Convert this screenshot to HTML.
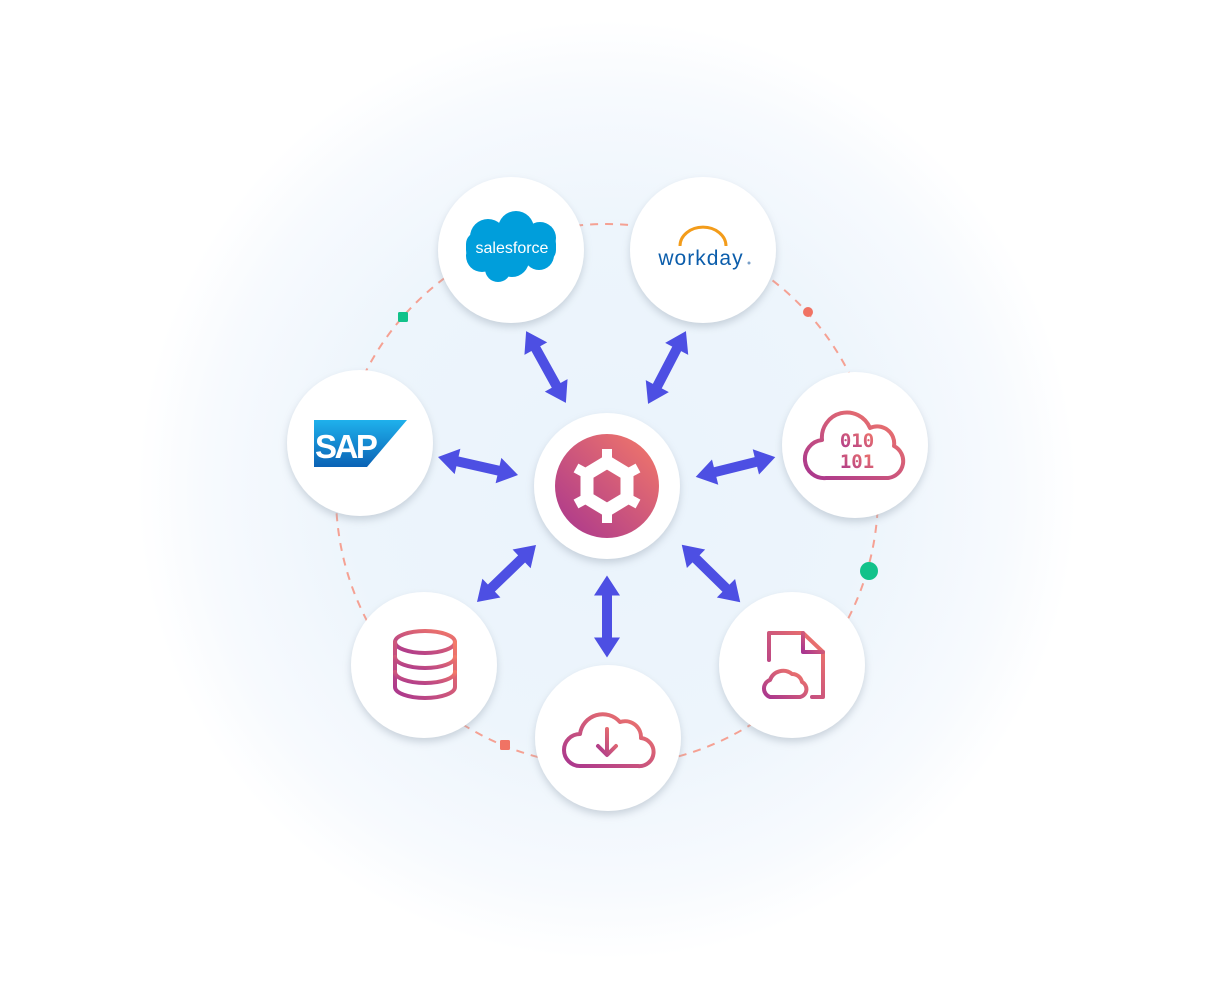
<!DOCTYPE html>
<html><head><meta charset="utf-8"><style>
html,body{margin:0;padding:0;background:#fff;}
svg{display:block;}
</style></head><body>
<svg width="1215" height="990" viewBox="0 0 1215 990" xmlns="http://www.w3.org/2000/svg">
<defs>
<radialGradient id="bg" cx="607" cy="490" r="470" gradientUnits="userSpaceOnUse">
<stop offset="0" stop-color="#eaf3fc"/>
<stop offset="0.55" stop-color="#edf5fc"/>
<stop offset="0.85" stop-color="#f7fafe"/>
<stop offset="1" stop-color="#ffffff"/>
</radialGradient>
<linearGradient id="pg" x1="1" y1="0" x2="0" y2="1">
<stop offset="0" stop-color="#f47a68"/>
<stop offset="1" stop-color="#a8358f"/>
</linearGradient>
<filter id="sh" x="-30%" y="-30%" width="160%" height="160%">
<feDropShadow dx="0" dy="4" stdDeviation="4" flood-color="#9aa6b4" flood-opacity="0.45"/>
</filter>
</defs>
<rect width="1215" height="990" fill="#fff"/>
<circle cx="607" cy="490" r="470" fill="url(#bg)"/>

<circle cx="607" cy="495" r="271" fill="none" stroke="#f5a193" stroke-width="2" stroke-dasharray="8 7"/>
<rect x="398" y="312" width="10" height="10" rx="1.5" fill="#12c28a"/>
<circle cx="808" cy="312" r="5" fill="#f07364"/>
<circle cx="869" cy="571" r="9" fill="#12c28a"/>
<rect x="500" y="740" width="10" height="10" rx="1.5" fill="#f07364"/>

<g fill="#4d4fe3">
<g transform="translate(546,367) rotate(61)"><polygon points="-41,0 -21,-13 -21,-5 21,-5 21,-13 41,0 21,13 21,5 -21,5 -21,13"/></g>
<g transform="translate(667,367.5) rotate(117.5)"><polygon points="-41,0 -21,-13 -21,-5 21,-5 21,-13 41,0 21,13 21,5 -21,5 -21,13"/></g>
<g transform="translate(478,466) rotate(12.7)"><polygon points="-41,0 -21,-13 -21,-5 21,-5 21,-13 41,0 21,13 21,5 -21,5 -21,13"/></g>
<g transform="translate(735.5,467) rotate(-14)"><polygon points="-41,0 -21,-13 -21,-5 21,-5 21,-13 41,0 21,13 21,5 -21,5 -21,13"/></g>
<g transform="translate(506.5,573.5) rotate(136)"><polygon points="-41,0 -21,-13 -21,-5 21,-5 21,-13 41,0 21,13 21,5 -21,5 -21,13"/></g>
<g transform="translate(607,616.5) rotate(90)"><polygon points="-41,0 -21,-13 -21,-5 21,-5 21,-13 41,0 21,13 21,5 -21,5 -21,13"/></g>
<g transform="translate(711,573.5) rotate(44.5)"><polygon points="-41,0 -21,-13 -21,-5 21,-5 21,-13 41,0 21,13 21,5 -21,5 -21,13"/></g>
</g>

<g fill="#fff" filter="url(#sh)">
<circle cx="511" cy="250" r="73"/>
<circle cx="703" cy="250" r="73"/>
<circle cx="360" cy="443" r="73"/>
<circle cx="855" cy="445" r="73"/>
<circle cx="424" cy="665" r="73"/>
<circle cx="608" cy="738" r="73"/>
<circle cx="792" cy="665" r="73"/>
<circle cx="607" cy="486" r="73"/>
</g>

<!-- hub -->
<circle cx="607" cy="486" r="52" fill="url(#pg)"/>
<g stroke="#fff" fill="none">
<polygon points="607,462 627,474 627,498 607,510 587,498 587,474" stroke-width="13" stroke-linejoin="miter"/>
<g stroke-width="10">
<line x1="607" y1="462" x2="607" y2="449"/>
<line x1="607" y1="510" x2="607" y2="523"/>
<line x1="627" y1="474" x2="638" y2="468"/>
<line x1="627" y1="498" x2="638" y2="504"/>
<line x1="587" y1="474" x2="576" y2="468"/>
<line x1="587" y1="498" x2="576" y2="504"/>
</g>
</g>

<!-- salesforce -->
<g fill="#009edb">
<circle cx="488" cy="237" r="18"/>
<circle cx="516" cy="229" r="18"/>
<circle cx="540" cy="238" r="16"/>
<circle cx="482" cy="256" r="16"/>
<circle cx="512" cy="260" r="17"/>
<circle cx="539" cy="255" r="15"/>
<circle cx="498" cy="269" r="13"/>
<rect x="466" y="232" width="90" height="30" rx="12"/>
</g>
<text x="512" y="253" font-family="Liberation Sans, sans-serif" font-size="16" fill="#fff" text-anchor="middle">salesforce</text>

<!-- workday -->
<path d="M680,246 A22,18 0 0 1 726,246" fill="none" stroke="#f39c1a" stroke-width="3"/>
<text x="701" y="265" font-family="Liberation Sans, sans-serif" font-size="21" fill="#0b5dab" text-anchor="middle" letter-spacing="1">workday</text>
<circle cx="749" cy="263" r="1.5" fill="#7aa0c8"/>

<!-- SAP -->
<defs><linearGradient id="sapg" x1="0" y1="0" x2="0" y2="1"><stop offset="0" stop-color="#1fb1ec"/><stop offset="1" stop-color="#0a62b5"/></linearGradient></defs>
<polygon points="314,420 407,420 367,467 314,467" fill="url(#sapg)"/>
<text x="315" y="458" font-family="Liberation Sans, sans-serif" font-weight="bold" font-size="33" fill="#fff" letter-spacing="-2.5">SAP</text>

<!-- icons -->
<g fill="none" stroke="url(#pg)" stroke-width="4" stroke-linecap="round" stroke-linejoin="round">
<!-- binary cloud -->
<path d="M826,478 H888 A17,17 0 0 0 894,446 A17,17 0 0 0 870,428 A25,25 0 0 0 822,440 A19,19 0 0 0 826,478 Z"/>
<!-- database -->
<ellipse cx="425" cy="642" rx="30" ry="11"/>
<path d="M395,642 V687 A30,11 0 0 0 455,687 V642"/>
<path d="M395,657 A30,11 0 0 0 455,657"/>
<path d="M395,672 A30,11 0 0 0 455,672"/>
<!-- download cloud -->
<path d="M580,766 H638 A14,14 0 0 0 641,738 A16,16 0 0 0 620,722 A23,23 0 0 0 580,734 A16,16 0 0 0 580,766 Z"/>
<path d="M607,729 V754 M598,746 L607,755 L616,746"/>
<!-- file cloud -->
<path d="M769,660 V633 H803 L823,652 V697 H812"/>
<path d="M803,633 V652 H823"/>
<path d="M770,697 H800 A8,8 0 0 0 802,682 A10,10 0 0 0 792,674 A14,14 0 0 0 770,680 A9,9 0 0 0 770,697 Z"/>
</g>
<g font-family="DejaVu Sans Mono, monospace" font-weight="bold" font-size="19" fill="url(#pg)" text-anchor="middle">
<text x="857" y="447">010</text>
<text x="857" y="468">101</text>
</g>
</svg>
</body></html>
